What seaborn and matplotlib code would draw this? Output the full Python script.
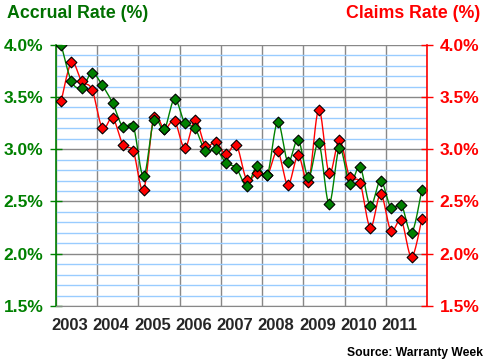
import numpy as np
import pandas as pd
import matplotlib
matplotlib.use('Agg')
import matplotlib.pyplot as plt
import seaborn as sns
from matplotlib.ticker import MultipleLocator

# Quarterly accrual and claims rates, 2003 Q1 .. 2011 Q4
years = list(range(2003, 2012))
accrual = [4.00, 3.65, 3.59, 3.73, 3.61, 3.44, 3.21, 3.22,
           2.74, 3.28, 3.19, 3.48, 3.25, 3.20, 2.98, 3.00,
           2.87, 2.82, 2.65, 2.84, 2.75, 3.26, 2.88, 3.09,
           2.73, 3.06, 2.48, 3.01, 2.67, 2.83, 2.46, 2.70,
           2.44, 2.47, 2.20, 2.61]
claims = [3.46, 3.83, 3.65, 3.57, 3.20, 3.30, 3.04, 2.98,
          2.61, 3.31, 3.19, 3.27, 3.01, 3.28, 3.03, 3.07,
          2.95, 3.04, 2.71, 2.77, 2.75, 2.98, 2.66, 2.94,
          2.69, 3.38, 2.77, 3.09, 2.73, 2.68, 2.25, 2.57,
          2.22, 2.32, 1.97, 2.33]

GREEN = '#008000'
RED = '#ff0000'

df = pd.DataFrame({'accrual': accrual, 'claims': claims})
df['t'] = [2003 + (i + 0.5) / 4 for i in range(len(df))]

# one quarter is ~10.3 px wide, 1% is ~104.4 px tall
YSCALE = 104.4 / 10.3


def smooth(x, y, n=20):
    # Excel-style smoothed line: Catmull-Rom curve in screen proportions
    px = (np.asarray(x, float) - 2003) * 4
    py = np.asarray(y, float) * YSCALE
    P = np.column_stack([px, py])
    out = []
    for i in range(len(P) - 1):
        p0 = P[i - 1] if i > 0 else P[i]
        p1, p2 = P[i], P[i + 1]
        p3 = P[i + 2] if i + 2 < len(P) else P[i + 1]
        c1 = p1 + (p2 - p0) / 6
        c2 = p2 - (p3 - p1) / 6
        t = np.linspace(0, 1, n, endpoint=False)[:, None]
        out.append((1 - t) ** 3 * p1 + 3 * (1 - t) ** 2 * t * c1
                   + 3 * (1 - t) * t ** 2 * c2 + t ** 3 * p2)
    out.append(P[-1:])
    out = np.vstack(out)
    return pd.DataFrame({'x': 2003 + out[:, 0] / 4, 'y': out[:, 1] / YSCALE})


sns.set_style('white')
plt.rcParams['font.family'] = ['Liberation Sans', 'DejaVu Sans']
plt.rcParams['font.weight'] = 'bold'

fig = plt.figure(figsize=(4.86, 3.64), dpi=100)
ax = fig.add_axes([56 / 486, 1 - 306 / 364, (427 - 56) / 486, (306 - 44.7) / 364])

# grid
ax.set_xlim(2003, 2012)
ax.set_ylim(1.5, 4.0)
ax.yaxis.set_major_locator(MultipleLocator(0.5))
ax.yaxis.set_minor_locator(MultipleLocator(0.1))
ax.grid(True, which='minor', axis='y', color='#99ccff', lw=1)
ax.grid(True, which='major', axis='y', color='#888888', lw=1)
ax.set_xticks(years + [2012])
ax.set_xticklabels([])
ax.grid(True, which='major', axis='x', color='#888888', lw=1)
ax.set_axisbelow(True)

# lines and markers (red first, green on top)
for col, colour in [('claims', RED), ('accrual', GREEN)]:
    sm = smooth(df['t'], df[col])
    sns.lineplot(data=sm, x='x', y='y', color=colour, lw=1, ax=ax, sort=False,
                 estimator=None)
    sns.scatterplot(data=df, x='t', y=col, marker='D', s=30, color=colour,
                    edgecolor='black', linewidth=0.8, ax=ax, zorder=5)

ax.set_xlabel('')
ax.set_ylabel('')

# year labels
ax.set_xticks([y + 0.34 for y in years], [str(y) for y in years], minor=True)
ax.tick_params(axis='x', which='minor', length=0, pad=9, labelsize=12)
ax.tick_params(axis='x', which='major', length=4, color='#888888', direction='out')

ax.set_yticks([1.5, 2.0, 2.5, 3.0, 3.5, 4.0],
              ['1.5%', '2.0%', '2.5%', '3.0%', '3.5%', '4.0%'])
ax.tick_params(axis='y', which='major', direction='inout', length=8, width=1,
               color=GREEN, labelcolor=GREEN, labelsize=12.5, pad=5)
ax.tick_params(axis='y', which='minor', length=0)

ax.spines['top'].set_visible(False)
ax.spines['bottom'].set_color('#888888')
ax.spines['left'].set_color(GREEN)
ax.spines['left'].set_linewidth(1.2)
ax.spines['right'].set_visible(False)

ax2 = ax.twinx()
ax2.set_ylim(1.5, 4.0)
ax2.set_yticks([1.5, 2.0, 2.5, 3.0, 3.5, 4.0],
               ['1.5%', '2.0%', '2.5%', '3.0%', '3.5%', '4.0%'])
ax2.tick_params(axis='y', direction='inout', length=8, width=1,
                color=RED, labelcolor=RED, labelsize=12.5, pad=5)
for s in ['top', 'left', 'bottom']:
    ax2.spines[s].set_visible(False)
ax2.spines['right'].set_color(RED)
ax2.spines['right'].set_linewidth(1.2)

fig.text(7 / 486, 1 - 14 / 364, 'Accrual Rate (%)', color='#007000',
         fontsize=12.8, fontweight='bold', va='center', ha='left')
fig.text(480 / 486, 1 - 14 / 364, 'Claims Rate (%)', color=RED,
         fontsize=12.8, fontweight='bold', va='center', ha='right')
fig.text(483 / 486, 1 - 353 / 364, 'Source: Warranty Week', color='black',
         fontsize=8.7, fontweight='bold', va='center', ha='right')

fig.savefig('out.png', dpi=100, facecolor='white')
